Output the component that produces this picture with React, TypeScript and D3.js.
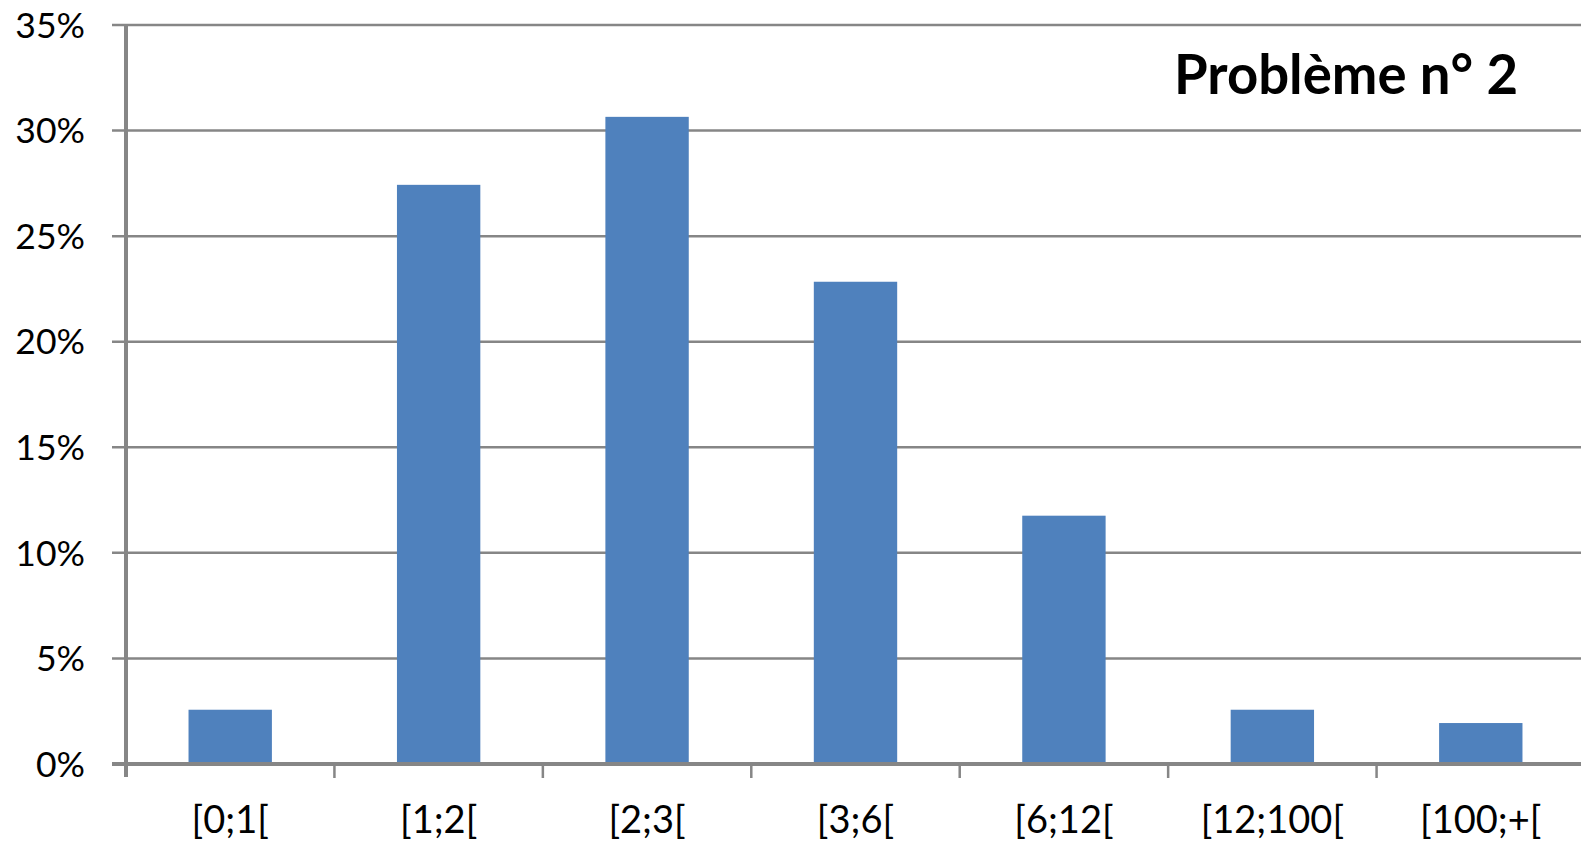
import React from "react";
import * as d3 from "d3";

// Share of cases per duration class
const categories: string[] = ["[0;1[", "[1;2[", "[2;3[", "[3;6[", "[6;12[", "[12;100[", "[100;+["];
const shares: number[] = [0.0257, 0.2743, 0.3065, 0.2284, 0.1176, 0.0257, 0.0194];
const yTicks: number[] = [0, 0.05, 0.1, 0.15, 0.2, 0.25, 0.3, 0.35];
const chartTitle = "Problème n° 2";

const W = 1581;
const H = 848;
const left = 126;
const right = 1585;
const top = 25;
const bottom = 764;

const BAR = "#4F81BD";
const GRID = "#868686";
const FONT = "Lato, 'Open Sans', sans-serif";

export default function App() {
  const x = d3.scaleBand<string>().domain(categories).range([left, right]).paddingInner(0.6).paddingOuter(0.3);
  const y = d3.scaleLinear().domain([0, 0.35]).range([bottom, top]);
  const fmt = d3.format(".0%");
  const step = x.step();
  const boundaries = d3.range(categories.length + 1).map((i) => left + i * step);

  return (
    <svg width={W} height={H} style={{ position: "absolute", left: 0, top: 0, background: "#fff" }}>
      {/* horizontal gridlines */}
      {yTicks.filter((t) => t > 0).map((t) => (
        <line key={t} x1={112} x2={W} y1={y(t)} y2={y(t)} stroke={GRID} strokeWidth={2.5} />
      ))}
      {/* bars */}
      {categories.map((c, i) => (
        <rect key={c} x={x(c)} width={x.bandwidth()} y={y(shares[i])} height={y(0) - y(shares[i])} fill={BAR} />
      ))}
      {/* value axis */}
      <line x1={left} x2={left} y1={top - 1} y2={bottom + 13} stroke={GRID} strokeWidth={4} />
      {/* category axis */}
      <line x1={112} x2={W} y1={y(0)} y2={y(0)} stroke={GRID} strokeWidth={4} />
      {boundaries.slice(1).map((b) => (
        <line key={b} x1={b} x2={b} y1={y(0)} y2={y(0) + 14} stroke={GRID} strokeWidth={2.5} />
      ))}
      {/* tick labels */}
      {yTicks.map((t) => (
        <text key={t} x={85} y={y(t)} dy="0.36em" textAnchor="end" fontFamily={FONT} fontSize={35.5} fill="#000">
          {fmt(t)}
        </text>
      ))}
      {categories.map((c) => (
        <text key={c} x={(x(c) as number) + x.bandwidth() / 2} y={833} textAnchor="middle" fontFamily={FONT} fontSize={38} fill="#000">
          {c}
        </text>
      ))}
      <text x={1518} y={94} textAnchor="end" fontFamily={FONT} fontWeight="bold" fontSize={54.5} fill="#000">
        {chartTitle}
      </text>
    </svg>
  );
}
